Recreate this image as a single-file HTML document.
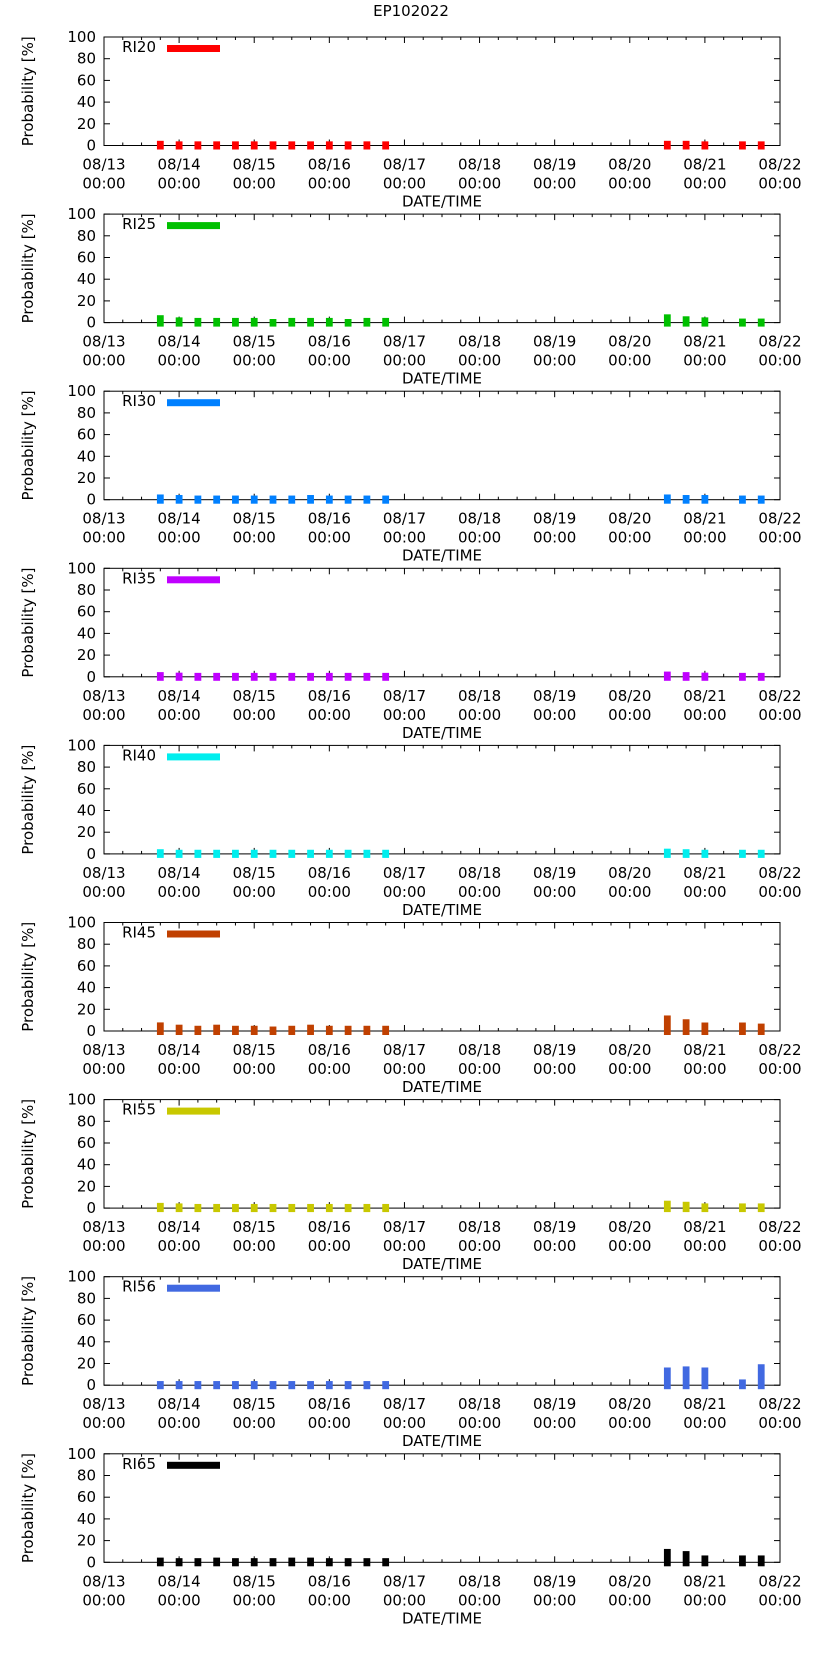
<!DOCTYPE html>
<html><head><meta charset="utf-8">
<style>
html,body{margin:0;padding:0;background:#fff;}
svg{display:block;font-family:"DejaVu Sans","Liberation Sans",sans-serif;}
</style></head>
<body>
<svg id="chart" width="822" height="1653" viewBox="0 0 822 1653" xmlns="http://www.w3.org/2000/svg">
<text x="411" y="16" text-anchor="middle" font-size="15">EP102022</text>
</svg>
<script>
const seriesNames = ["RI20","RI25","RI30","RI35","RI40","RI45","RI55","RI56","RI65"];
const seriesColors = ["#ff0000","#00c000","#0080ff","#c000ff","#00eeee","#c04000","#c8c800","#4169e1","#000000"];
// bar times in days since 08/13 00:00
const barTimes = [0.75,1,1.25,1.5,1.75,2,2.25,2.5,2.75,3,3.25,3.5,3.75,7.5,7.75,8,8.5,8.75];
const ri20 = [1,0.5,0.5,0.5,0.5,0.5,0.5,0.5,0.5,0.5,0.5,0.5,0.5,1,1,0.5,0.5,0.5];
const ri25 = [3.5,1.5,1,1,1,1,0,1,1,1,0,1,1,4.3,2.5,1.5,0.4,0.4];
const ri30 = [1.5,1,0.5,0.5,0.5,0.5,0.5,0.5,1,0.5,0.5,0.5,0.5,1.5,1,1,0.5,0.5];
const ri35 = [1,0.5,0.3,0.3,0.3,0.3,0.3,0.3,0.3,0.3,0.3,0.3,0.3,1.5,1,0.5,0.3,0.3];
const ri40 = [1,0.5,0.5,0.5,0.5,0.5,0.5,0.5,0.5,0.5,0.5,0.5,0.5,1.5,1,0.5,0.5,0.5];
const ri45 = [4.6,2.5,1.5,2.5,1.5,1.5,0.8,1.5,2.5,1.5,1.5,1.5,1.5,11,7.5,4.5,4.5,3.5];
const ri55 = [1.5,1,0.5,0.5,0.5,0.5,0.5,0.5,0.5,0.5,0.5,0.5,0.5,3.5,2.5,1,1,1];
const ri56 = [0.5,0.5,0.5,0.5,0.5,0.5,0.5,0.5,0.5,0.5,0.5,0.5,0.5,13,14,13,2,16];
const ri65 = [1,0.5,0.5,1,0.5,0.5,0.5,1,1,0.5,0.5,0.5,0.5,9,7,3,3,3];
const allSeries = [ri20,ri25,ri30,ri35,ri40,ri45,ri55,ri56,ri65];
const yTicks = [0,20,40,60,80,100];
const xTickLabels = ["08/13","08/14","08/15","08/16","08/17","08/18","08/19","08/20","08/21","08/22"];

const NS="http://www.w3.org/2000/svg";
const svg=document.getElementById('chart');
const L=104,R=780,PH=108.5,STEP=177.1,TOP0=37,EXT=3.6;
function mk(tag,attrs,parent){const e=document.createElementNS(NS,tag);for(const k in attrs)e.setAttribute(k,attrs[k]);(parent||svg).appendChild(e);return e;}
function xs(d){return L+d*(R-L)/9;}

allSeries.forEach((vals,p)=>{
  const top=TOP0+p*STEP, bot=top+PH;
  const ys=v=>bot-v/100*PH;
  const g=mk('g',{});
  
  
  for(let i=0;i<=36;i++){const x=xs(i/4);const len=(i%4===0)?6:3;
    mk('line',{x1:x,y1:bot,x2:x,y2:bot-len,stroke:'#000','stroke-width':1},g);
    mk('line',{x1:x,y1:top,x2:x,y2:top+len,stroke:'#000','stroke-width':1},g);}
  yTicks.forEach(v=>{const y=ys(v);
    mk('line',{x1:L,y1:y,x2:L+6,y2:y,stroke:'#000'},g);
    mk('line',{x1:R,y1:y,x2:R-6,y2:y,stroke:'#000'},g);
    const t=mk('text',{x:L-8,y:y+5,'text-anchor':'end','font-size':15},g);t.textContent=v;
    
    
  });
  xTickLabels.forEach((lab,i)=>{const x=xs(i);
    const t=mk('text',{x:x,y:bot+24,'text-anchor':'middle','font-size':15},g);t.textContent=lab;
    
    
    const t2=mk('text',{x:x,y:bot+43,'text-anchor':'middle','font-size':15},g);t2.textContent='00:00';
    
    
  });
  const yl=mk('text',{transform:`translate(33,${(top+bot)/2}) rotate(-90)`,'text-anchor':'middle','font-size':15},g);
  yl.textContent='Probability [%]';
  
  
  const xl=mk('text',{x:(L+R)/2,y:bot+61,'text-anchor':'middle','font-size':15},g);
  xl.textContent='DATE/TIME';
  
  
  const lt=mk('text',{x:156,y:top+15,'text-anchor':'end','font-size':15},g);lt.textContent=seriesNames[p];
  
  
  const ll=mk('rect',{x:167,y:top+8,width:53,height:7,fill:seriesColors[p]},g);
  
  
  mk('rect',{x:L,y:top,width:R-L,height:PH,fill:'none',stroke:'#000','stroke-width':1},g);
  vals.forEach((v,i)=>{const x=xs(barTimes[i]);const y=ys(v);
    const b=mk('rect',{x:x-3.4,y:y-EXT,width:6.8,height:bot+EXT+0.4-(y-EXT),fill:seriesColors[p]},g);
    
    
  });
});
</script>
</body></html>
